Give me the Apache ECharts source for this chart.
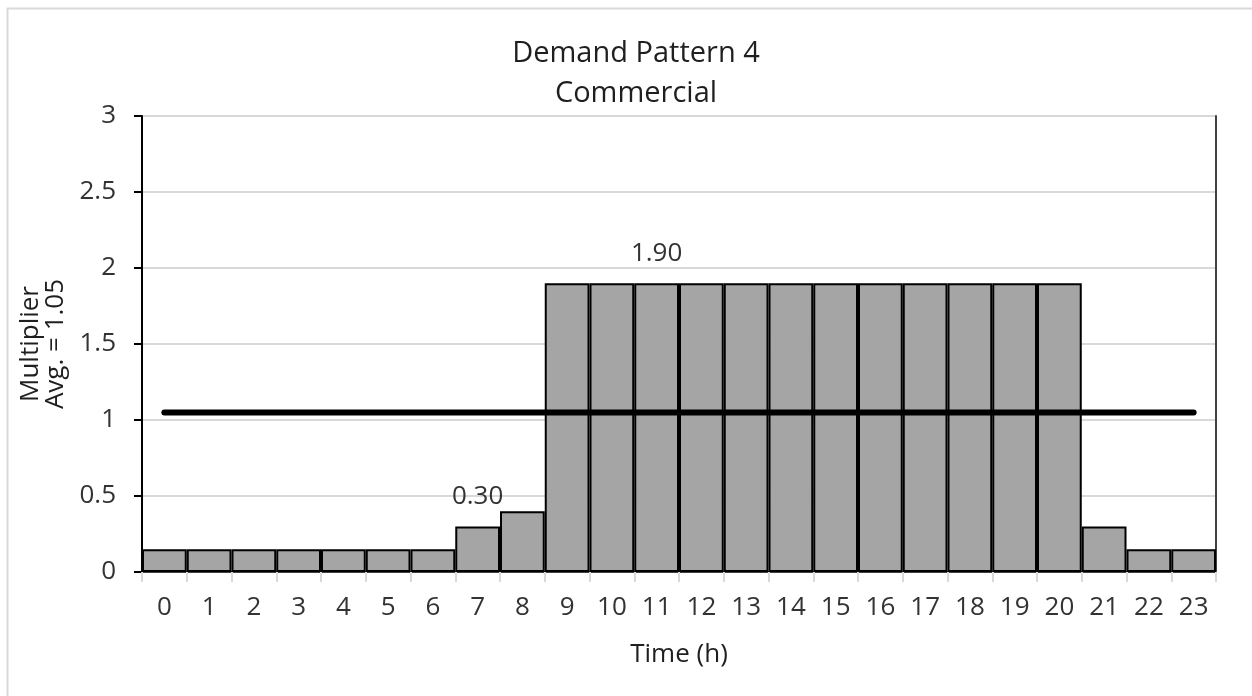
<!DOCTYPE html>
<html>
<head>
<meta charset="utf-8">
<script src="https://cdn.jsdelivr.net/npm/echarts@6/dist/echarts.min.js"></script>
<style>
  html, body { margin: 0; padding: 0; background: #fff; }
  #chart { width: 1252px; height: 696px; }
</style>
</head>
<body>
<div id="chart"></div>
<script>
// Hourly demand multipliers for a commercial pattern
const hours = ['0','1','2','3','4','5','6','7','8','9','10','11','12','13','14','15','16','17','18','19','20','21','22','23'];
const multipliers = [0.15,0.15,0.15,0.15,0.15,0.15,0.15,0.30,0.40,1.90,1.90,1.90,1.90,1.90,1.90,1.90,1.90,1.90,1.90,1.90,1.90,0.30,0.15,0.15];
const labelledHours = ['7','11'];
const average = 1.05;
const yTicks = { min: 0, max: 3, interval: 0.5 };

const FONT = '"Open Sans", "Noto Sans", sans-serif';
const TEXT_SIZE = 26;
const chart = echarts.init(document.getElementById('chart'), null, { renderer: 'canvas' });

const barData = multipliers.map((v, i) => ({
  value: v,
  label: {
    show: labelledHours.indexOf(hours[i]) >= 0,
    position: 'top',
    distance: 17,
    formatter: p => p.value.toFixed(2),
    fontFamily: FONT,
    fontSize: TEXT_SIZE,
    color: '#333'
  }
}));

const avgLine = [[hours[0], average], [hours[hours.length - 1], average]];

chart.setOption({
  animation: false,
  backgroundColor: '#fff',
  graphic: [{
    type: 'rect',
    shape: { x: 7.5, y: 8.5, width: 1300, height: 800 },
    style: { fill: 'none', stroke: '#d9d9d9', lineWidth: 2 },
    silent: true, z: -10
  }],
  title: {
    text: 'Demand Pattern 4\nCommercial',
    left: 631,
    textAlign: 'center',
    top: 29,
    textStyle: { fontFamily: FONT, fontSize: 29, fontWeight: 'normal', color: '#1f1f1f', lineHeight: 40 }
  },
  grid: { left: 142, right: 36, top: 116, bottom: 124, containLabel: false },
  xAxis: [{
    type: 'category',
    data: hours,
    boundaryGap: true,
    name: 'Time (h)',
    nameLocation: 'middle',
    nameGap: 70,
    nameTextStyle: { fontFamily: FONT, fontSize: TEXT_SIZE, color: '#1f1f1f' },
    axisLine: { lineStyle: { color: '#d9d9d9', width: 2 } },
    axisTick: { show: true, length: 10, interval: 0, lineStyle: { color: '#d9d9d9', width: 2 } },
    axisLabel: { interval: 0, margin: 23, fontFamily: FONT, fontSize: TEXT_SIZE, color: '#333' },
    splitLine: { show: false }
  }, {
    type: 'category',
    data: hours,
    position: 'top',
    axisLine: { lineStyle: { color: '#404040', width: 2 } },
    axisTick: { show: false },
    axisLabel: { show: false }
  }],
  yAxis: [{
    type: 'value',
    min: yTicks.min,
    max: yTicks.max,
    interval: yTicks.interval,
    name: 'Multiplier\nAvg. = 1.05',
    nameLocation: 'middle',
    nameGap: 70,
    nameRotate: 90,
    nameTextStyle: { fontFamily: FONT, fontSize: TEXT_SIZE, color: '#1f1f1f', lineHeight: 25 },
    axisLine: { show: true, lineStyle: { color: '#000', width: 2 } },
    axisTick: { show: true, inside: false, length: 8, lineStyle: { color: '#000', width: 2 } },
    axisLabel: { margin: 26, fontFamily: FONT, fontSize: TEXT_SIZE, color: '#333', formatter: v => String(v) },
    splitLine: { show: true, lineStyle: { color: '#d9d9d9', width: 2 } }
  }, {
    type: 'value',
    min: yTicks.min,
    max: yTicks.max,
    interval: yTicks.interval,
    position: 'right',
    axisLine: { show: true, lineStyle: { color: '#404040', width: 2 } },
    axisTick: { show: false },
    axisLabel: { show: false },
    splitLine: { show: false }
  }],
  series: [{
    type: 'bar',
    data: barData,
    barCategoryGap: 0,
    itemStyle: { color: '#a5a5a5', borderColor: '#000', borderWidth: 2 },
    z: 2
  }, {
    type: 'line',
    data: avgLine,
    symbol: 'none',
    lineStyle: { color: '#000', width: 6, cap: 'round' },
    z: 3
  }]
});
</script>
</body>
</html>
